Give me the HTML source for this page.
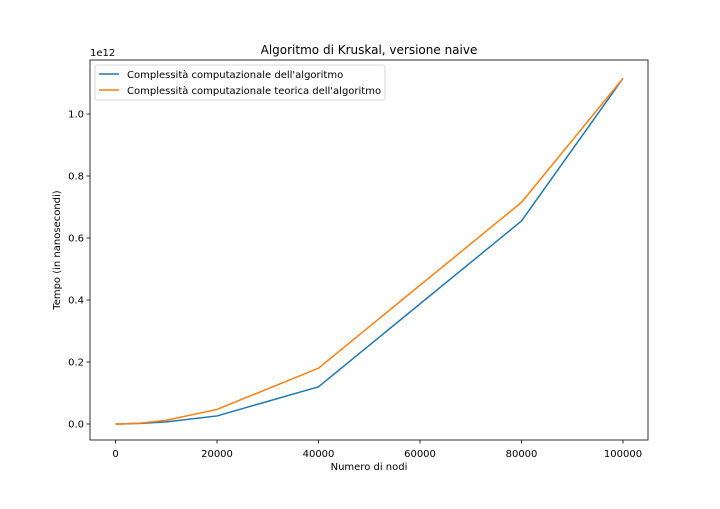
<!DOCTYPE html>
<html><head><meta charset="utf-8"><style>
body{margin:0;background:#fff;}
svg text{font-family:"DejaVu Sans","Liberation Sans",sans-serif;fill:#000;}
</style></head><body>
<svg id="c" width="720" height="504" xmlns="http://www.w3.org/2000/svg">
<rect width="720" height="504" fill="#fff"/>
<g id="g"></g>
</svg>
<script>
const xValues=[0,1000,5000,10000,20000,40000,80000,100000];
const measured=[0,0.0001,0.002,0.007,0.026,0.12,0.655,1.115];
const theoretical=[0,0.0001,0.003,0.012,0.047,0.18,0.715,1.115];
const xTicks=[0,20000,40000,60000,80000,100000];
const yTicks=[0,0.2,0.4,0.6,0.8,1.0];
const yTickLabels=["0.0","0.2","0.4","0.6","0.8","1.0"];
const L=90,R=648,T=60,B=440;
function sx(v){return 115.5+v*(623-115.5)/100000;}
function sy(v){return 424-v*310;}
const NS="http://www.w3.org/2000/svg";
const g=document.getElementById('g');
function mk(tag,attrs,name,parent){const e=document.createElementNS(NS,tag);for(const k in attrs)e.setAttribute(k,attrs[k]);


(parent||g).appendChild(e);return e;}
function txt(x,y,s,size,anchor,name,extra){const t=mk('text',Object.assign({x:x,y:y,'font-size':size,'text-anchor':anchor},extra||{}),name);t.textContent=s;return t;}
xTicks.forEach((v,i)=>{mk('line',{x1:sx(v),x2:sx(v),y1:B,y2:B+3.5,stroke:'#000','stroke-width':0.8},'x-tick');
txt(sx(v),B+17,String(v),10,'middle','x-tick-label');});
yTicks.forEach((v,i)=>{mk('line',{x1:L-3.5,x2:L,y1:sy(v),y2:sy(v),stroke:'#000','stroke-width':0.8},'y-tick');
txt(L-6,sy(v)+3.5,yTickLabels[i],10,'end','y-tick-label');});
function line(vals,color,name){mk('polyline',{points:xValues.map((x,i)=>sx(x)+','+sy(vals[i])).join(' '),fill:'none',stroke:color,'stroke-width':1.5,'stroke-linejoin':'round'},name);}
line(measured,'#1f77b4','measured-line');
line(theoretical,'#ff7f0e','theoretical-line');
mk('rect',{x:L,y:T,width:R-L,height:B-T,fill:'none',stroke:'#000','stroke-width':0.8},'plot-frame');
txt(369,54,'Algoritmo di Kruskal, versione naive',12,'middle','chart-title');
txt(369,470,'Numero di nodi',10,'middle','x-axis-title');
txt(60,250,'Tempo (in nanosecondi)',10,'middle','y-axis-title',{transform:'rotate(-90 60 250)'});
txt(90,56,'1e12',10,'start','y-offset-label');
const lg=mk('rect',{x:95,y:65,width:290,height:35,fill:'#fff',stroke:'#ccc','stroke-width':0.8,rx:2},'legend');
mk('line',{x1:99,x2:119,y1:74,y2:74,stroke:'#1f77b4','stroke-width':1.5},'legend-swatch-measured');
txt(127,78,"Complessità computazionale dell'algoritmo",10,'start','legend-label-measured');
mk('line',{x1:99,x2:119,y1:90,y2:90,stroke:'#ff7f0e','stroke-width':1.5},'legend-swatch-theoretical');
txt(127,94,"Complessità computazionale teorica dell'algoritmo",10,'start','legend-label-theoretical');
</script>
</body></html>
